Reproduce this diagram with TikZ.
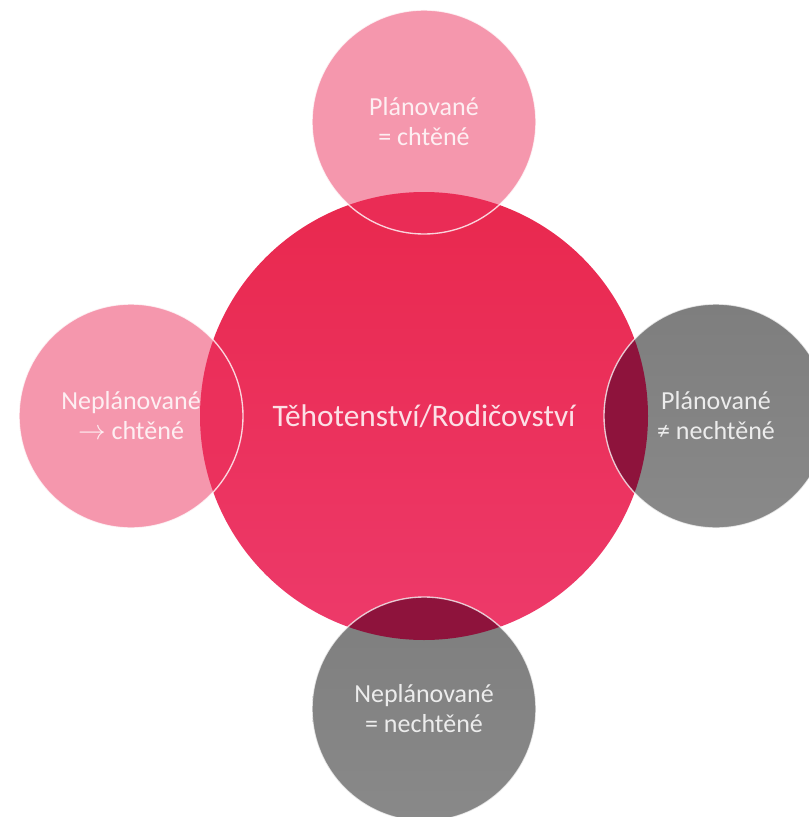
\documentclass[tikz,border=0pt]{standalone}
\usepackage{fontspec}
\setmainfont{Carlito}

\definecolor{crimsontop}{RGB}{233,40,78}
\definecolor{crimsonbot}{RGB}{237,58,106}
\definecolor{crimsonmid}{RGB}{235,48,92}
\definecolor{greytop}{RGB}{126,126,126}
\definecolor{greybot}{RGB}{137,137,137}
\definecolor{overlap}{RGB}{142,19,60}

\tikzset{
  bigball/.style={circle, minimum size=336pt, inner sep=0pt, align=center,
    top color=crimsontop, bottom color=crimsonbot,
    font=\fontsize{23.5}{28}\selectfont, text=white, text opacity=0.85},
  smallball/.style={circle, minimum size=168pt, inner sep=0pt, align=center,
    font=\fontsize{19.5}{22.5}\selectfont, text=white, text opacity=0.85},
  pinkball/.style={smallball, fill=crimsonmid, fill opacity=0.5,
    draw=white, draw opacity=0.8, line width=1pt, text opacity=0.85},
  greyball/.style={smallball, top color=greytop, bottom color=greybot},
  ring/.style={draw=white, draw opacity=0.75, line width=1pt}
}

\begin{document}
\begin{tikzpicture}[x=0.75pt, y=-0.75pt]
  \useasboundingbox (0,0) rectangle (809,817);
  \clip (0,0) rectangle (809,817);

  % Central circle
  \node[bigball] (main) at (424,416) {Těhotenství/Rodičovství};

  % Pink circles
  \node[pinkball] (planchtene) at (424,122) {Plánované\\= chtěné};
  \node[pinkball] (neplchtene) at (131,416) {Neplánované\\$\rightarrow$ chtěné};

  % Grey circles
  \node[greyball] (plannechtene) at (716,416) {};
  \node[greyball] (neplnechtene) at (424,709) {};

  % Overlaps with the central circle
  \begin{scope}
    \clip (main.center) circle[radius=168pt];
    \fill[overlap] (plannechtene.center) circle[radius=84pt];
    \fill[overlap] (neplnechtene.center) circle[radius=84pt];
  \end{scope}
  \draw[ring] (plannechtene.center) circle[radius=84pt];
  \draw[ring] (neplnechtene.center) circle[radius=84pt];

  \node[smallball] at (plannechtene.center) {Plánované\\≠ nechtěné};
  \node[smallball] at (neplnechtene.center) {Neplánované\\= nechtěné};
\end{tikzpicture}
\end{document}
